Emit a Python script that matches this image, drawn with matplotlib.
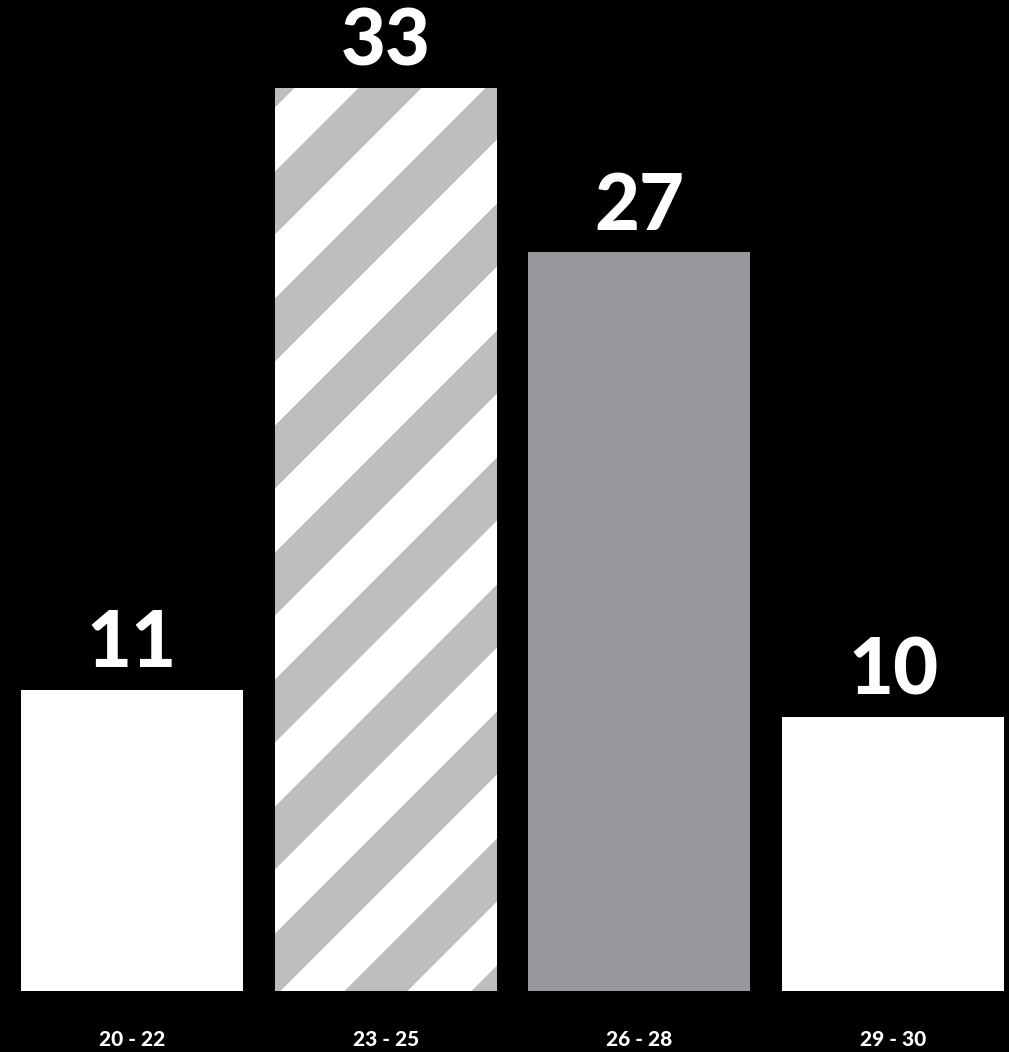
import numpy as np
import matplotlib.pyplot as plt

# age groups and their counts
categories = ["20 - 22", "23 - 25", "26 - 28", "29 - 30"]
values = [11, 33, 27, 10]
colors = ["#ffffff", "#ffffff", "#97989c", "#ffffff"]
striped = [False, True, False, False]

plt.rcParams['font.family'] = ['Lato', 'DejaVu Sans']

fig = plt.figure(figsize=(10.09, 10.52), dpi=100, facecolor="black")
ax = fig.add_axes([0, 61 / 1052, 1, 991 / 1052])
ax.set_facecolor("black")

x = np.arange(len(categories))
bars = ax.bar(x, values, width=0.875, color=colors, linewidth=0)
ax.set_xlim(-0.52, 3.457)
ax.set_ylim(0, 36.22)

ax.bar_label(bars, labels=[str(v) for v in values], padding=7, color="white",
             fontsize=56, fontweight="black")

ax.set_xticks(x)
ax.set_xticklabels(categories, color="white", fontsize=15, fontweight="black")
ax.tick_params(axis="x", length=0, pad=28)
ax.set_yticks([])
for s in ax.spines.values():
    s.set_visible(False)

# diagonal stripe fill for the highlighted bar
fig.canvas.draw()
gray = np.array([0xbd, 0xbe, 0xc0, 255]) / 255
white = np.array([1.0, 1.0, 1.0, 1.0])
for bar, st in zip(bars, striped):
    if not st:
        continue
    bb = bar.get_window_extent()
    w, h = int(round(bb.width)), int(round(bb.height))
    cols, rows = np.meshgrid(np.arange(w), np.arange(h))
    s = np.mod(cols + rows - 19, 127)
    img = np.where((s < 63.5)[..., None], white, gray)
    x0, y0 = bar.get_x(), bar.get_y()
    im = ax.imshow(img, extent=(x0, x0 + bar.get_width(), y0, y0 + bar.get_height()),
                   origin="upper", interpolation="nearest", aspect="auto", zorder=3)
    im.set_clip_path(bar)

ax.set_xlim(-0.52, 3.457)
ax.set_ylim(0, 36.22)

fig.savefig("out.png", dpi=100, facecolor="black")
